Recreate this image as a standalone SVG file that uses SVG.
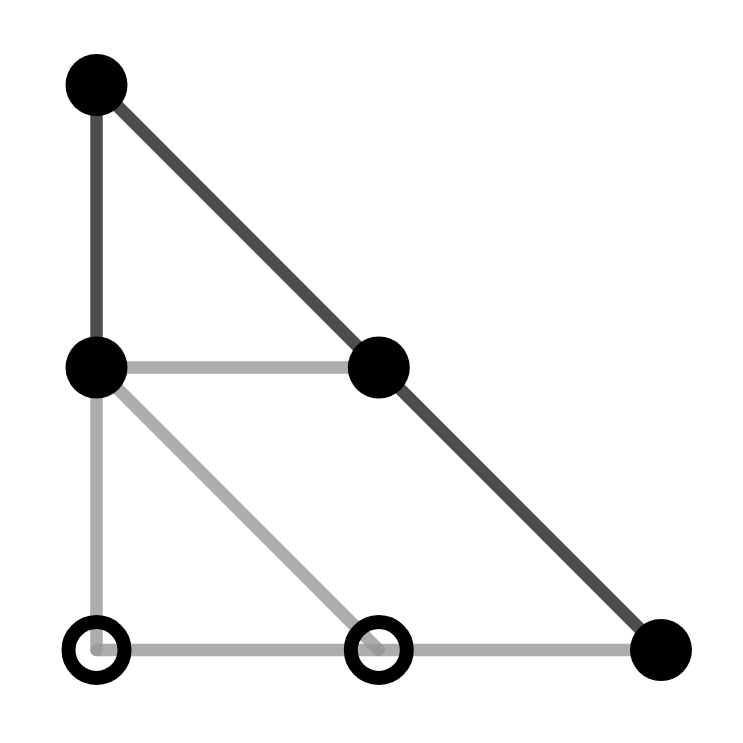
<svg xmlns="http://www.w3.org/2000/svg" width="743" height="743" viewBox="0 0 743 743">
<style>
.e{stroke-width:12.5;stroke-linecap:round;fill:none}
.d{stroke:#4d4d4d}
.g{stroke:#999;stroke-opacity:0.8}
.f{fill:#000}
.o{fill:none;stroke:#000;stroke-width:14}
</style>
<rect width="743" height="743" fill="#fff"/>
<g id="edges">
<line class="e g" x1="96.5" y1="367.5" x2="378.8" y2="367.5"/>
<line class="e g" x1="96.5" y1="367.5" x2="96.5" y2="650"/>
<line class="e g" x1="96.5" y1="367.5" x2="378.8" y2="650"/>
<line class="e g" x1="96.5" y1="650" x2="378.8" y2="650"/>
<line class="e g" x1="378.8" y1="650" x2="661" y2="650"/>
<line class="e d" x1="96.5" y1="85" x2="96.5" y2="367.5"/>
<line class="e d" x1="96.5" y1="85" x2="661" y2="650"/>
</g>
<g id="n1"><circle class="f" cx="96.5" cy="85" r="31"/></g>
<g id="n2"><circle class="f" cx="96.5" cy="367.5" r="31"/></g>
<g id="n3"><circle class="f" cx="378.8" cy="367.5" r="31"/></g>
<g id="n4"><circle class="o" cx="96.5" cy="650" r="28"/></g>
<g id="n5"><circle class="o" cx="378.8" cy="650" r="28"/></g>
<g id="n6"><circle class="f" cx="661" cy="650" r="31"/></g>
</svg>
